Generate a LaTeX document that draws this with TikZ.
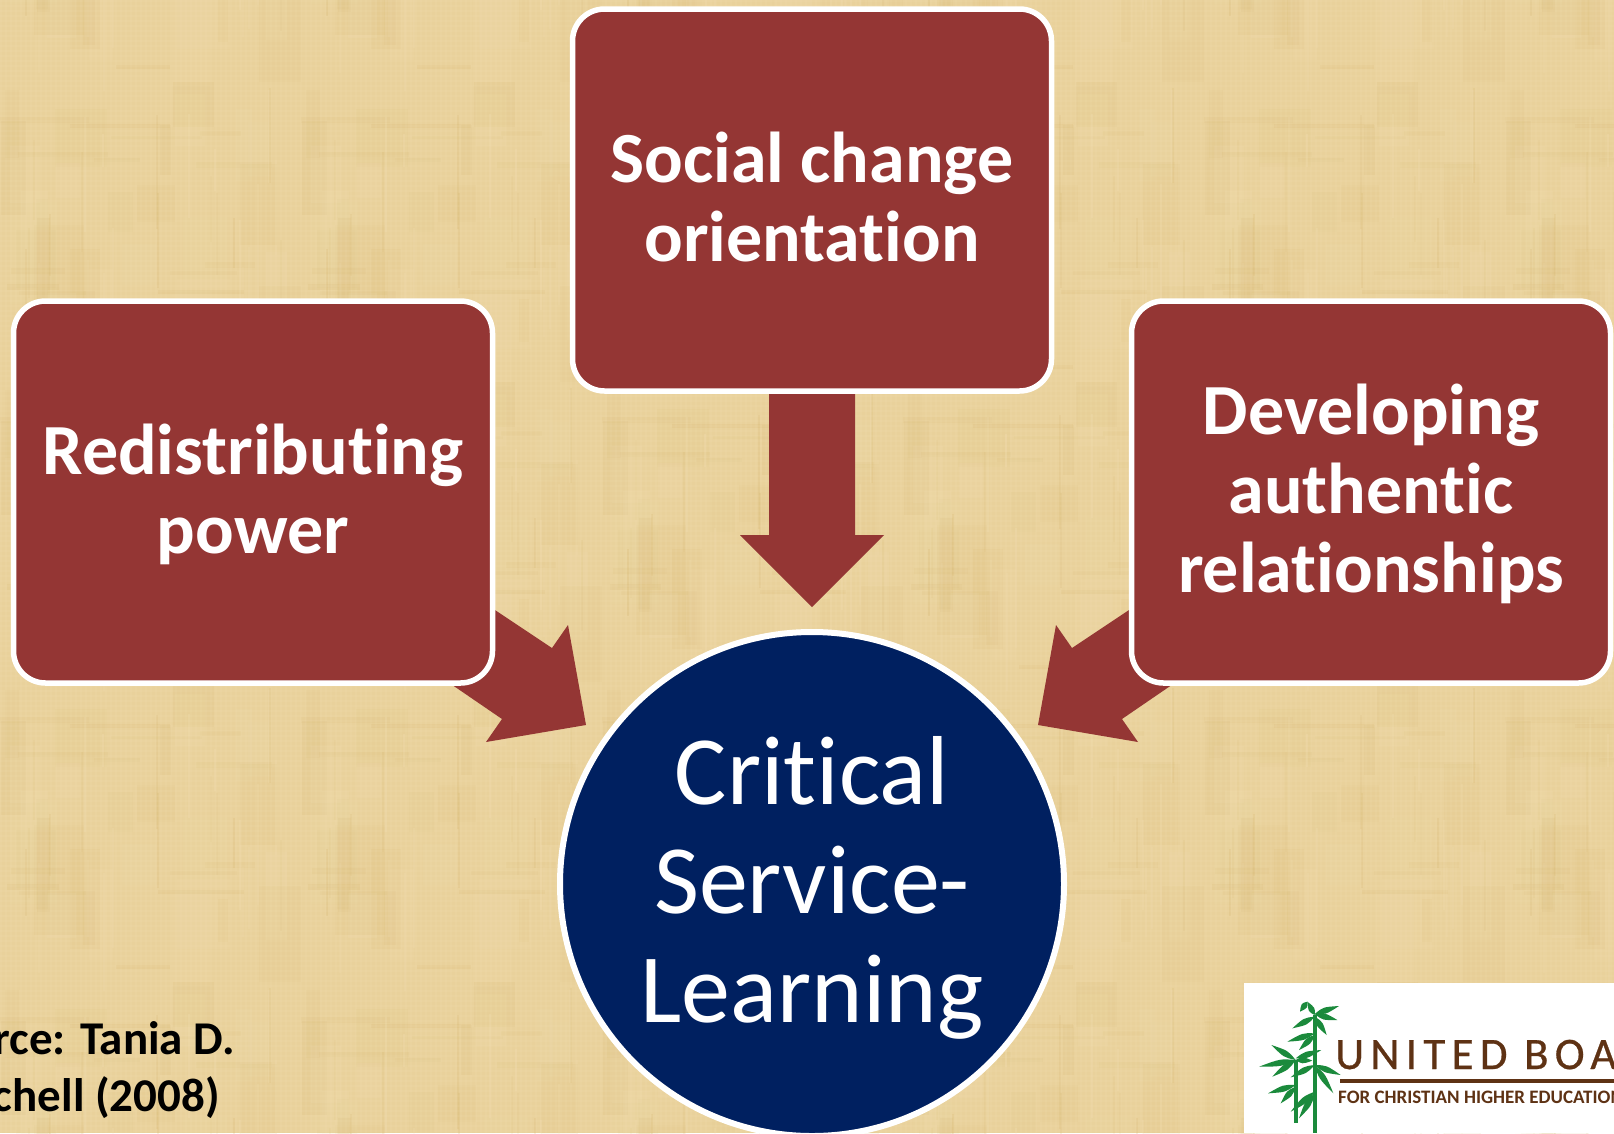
\documentclass[tikz,border=0pt]{standalone}
\usepackage{fontspec}
\setmainfont[Ligatures=NoCommon]{Carlito}
\newfontfamily\logofont[LetterSpace=14,FakeBold=0.6,Ligatures=NoCommon]{Carlito}
\usetikzlibrary{calc}
\definecolor{paper}{HTML}{E9D19B}
\definecolor{paperlight}{HTML}{F6E6BE}
\definecolor{paperdark}{HTML}{D6B56C}
\definecolor{boxred}{HTML}{943634}
\definecolor{circblue}{HTML}{002060}
\definecolor{bamboo}{HTML}{1B8A3C}
\definecolor{logobrown}{HTML}{5E3214}
\tikzset{
  redbox/.style={draw=white,line width=5.5pt,fill=boxred,rounded corners=32pt,minimum width=479pt,minimum height=382pt,inner sep=0pt},
  boxtext/.style={text=white,font=\fontsize{72}{79}\selectfont\bfseries,align=center,inner sep=0pt},
  bluecirc/.style={circle,draw=white,line width=6pt,fill=circblue,minimum size=504pt,inner sep=0pt},
  circtext/.style={text=white,font=\fontsize{98}{109}\selectfont,align=center,inner sep=0pt},
  blockarrow/.style={fill=boxred,draw=none},
  sourcetext/.style={font=\fontsize{47}{57}\selectfont\bfseries,text=black,anchor=base east,inner sep=0pt},
  stem/.style={draw=bamboo,line width=4pt},
  leaf/.style={fill=bamboo,draw=none}
}
\newcommand{\lf}[2]{\path[leaf] (#1) .. controls ($(#1)!.4!(#2)!4pt!90:(#2)$) .. (#2) .. controls ($(#1)!.4!(#2)!4pt!-90:(#2)$) .. (#1);}
\newcommand{\lz}[4]{\lf{{1244+#1/3},{990+#2/3}}{{1244+#3/3},{990+#4/3}}}
\begin{document}
\begin{tikzpicture}[x=1pt,y=-1pt]
\useasboundingbox (0,0) rectangle (1614,1133);
\clip (0,0) rectangle (1614,1133);
\fill[paper] (0,0) rectangle (1614,1133);
% paper texture: one tile, repeated
\foreach \tx in {0,301,...,1505}{
 \foreach \ty in {-221,79,379,679,979}{
  \begin{scope}[shift={(\tx,\ty)}]
  \pgfmathsetseed{7}
  \foreach \i in {1,...,30}{
    \pgfmathsetmacro{\xx}{rnd*270}\pgfmathsetmacro{\yy}{rnd*220}
    \pgfmathsetmacro{\ww}{8+rnd*50}\pgfmathsetmacro{\hh}{30+rnd*90}
    \pgfmathsetmacro{\op}{.05+rnd*.08}
    \pgfmathsetmacro{\kk}{rnd}
    \pgfmathparse{\kk>.5?1:0}
    \ifnum\pgfmathresult=1
      \fill[paperlight,opacity=\op] (\xx,\yy) rectangle ++(\ww,\hh);
    \else
      \fill[paperdark,opacity=\op] (\xx,\yy) rectangle ++(\ww,\hh);
    \fi
  }
  \foreach \i in {1,...,14}{
    \pgfmathsetmacro{\xx}{rnd*240}\pgfmathsetmacro{\yy}{rnd*290}
    \pgfmathsetmacro{\ww}{40+rnd*60}\pgfmathsetmacro{\hh}{2+rnd*4}
    \pgfmathsetmacro{\op}{.06+rnd*.10}
    \fill[paperdark,opacity=\op] (\xx,\yy) rectangle ++(\ww,\hh);
  }
  \foreach \i in {1,...,26}{
    \pgfmathsetmacro{\xx}{rnd*298}\pgfmathsetmacro{\yy}{rnd*200}
    \pgfmathsetmacro{\hh}{30+rnd*95}
    \pgfmathsetmacro{\op}{.08+rnd*.14}
    \pgfmathsetmacro{\kk}{rnd}
    \pgfmathparse{\kk>.5?1:0}
    \ifnum\pgfmathresult=1
      \fill[paperlight,opacity=\op] (\xx,\yy) rectangle ++(2,\hh);
    \else
      \fill[paperdark,opacity=\op] (\xx,\yy) rectangle ++(2,\hh);
    \fi
  }
  \end{scope}
 }
}
% fine weave
\foreach \v in {0,5,...,1610}{\fill[paperlight,opacity=.10] (\v,0) rectangle (\v+1.6,1133);}
\foreach \h in {0,5,...,1130}{\fill[paperlight,opacity=.10] (0,\h) rectangle (1614,\h+1.6);}
% arrows
\fill[blockarrow] (769,393) -- (855,393) -- (855,535) -- (884,535) -- (812,607) -- (740,535) -- (769,535) -- cycle;
\fill[blockarrow] (480,600) -- (552,648) -- (568,625) -- (586,725) -- (486,742) -- (502,719) -- (445,680) -- cycle;
\fill[blockarrow] (1144,600) -- (1072,648) -- (1056,625) -- (1038,725) -- (1138,742) -- (1122,719) -- (1179,680) -- cycle;
% boxes
\node[redbox] (top) at (812,200) {};
\node[boxtext] (toptext) at ($(top.center)+(0,-3)$) {Social change\\orientation};
\node[redbox] (left) at (253,492) {};
\node[boxtext] (lefttext) at ($(left.center)+(0,2)$) {Redistributing\\power};
\node[redbox] (right) at (1371,492) {};
\node[boxtext] (righttext) at ($(right.center)+(0,2)$) {Developing\\authentic\\relationships};
\node[bluecirc] (core) at (812,884) {};
\node[circtext] (coretext) at ($(core.center)+(0,4)$) {Critical\\Service-\\Learning};
% source
\node[sourcetext] (src1) at (235,1054) {rce: Tania D.};
\node[sourcetext] (src2) at (220,1111) {chell (2008)};
% logo
\fill[white] (1244,983) rectangle (1614,1133);
\node[font=\logofont\fontsize{45}{45}\selectfont,text=logobrown,anchor=base west,inner sep=0pt] (ub) at (1335,1069) {UNITED BOA};
\fill[logobrown] (1340,1079) rectangle (1614,1082.5);
\node[font=\fontsize{19}{19}\selectfont\bfseries,text=logobrown,anchor=base west,inner sep=0pt] (fc) at (1338,1103) {FOR CHRISTIAN HIGHER EDUCATION};
\draw[stem] (1315,1015) -- (1315,1133);
\draw[stem,line width=3.2pt] (1296,1060) -- (1296,1123);
\lz{212}{75}{190}{35}
\lz{190}{35}{168}{65}
\lz{212}{72}{285}{48}
\lz{212}{72}{280}{90}
\lz{212}{80}{248}{135}
\lz{212}{80}{145}{115}
\lz{212}{130}{130}{155}
\lz{212}{135}{165}{180}
\lz{155}{205}{232}{180}
\lz{155}{210}{82}{165}
\lz{155}{210}{45}{230}
\lz{155}{210}{85}{260}
\lz{155}{210}{205}{212}
\lz{212}{225}{290}{255}
\lz{212}{225}{268}{310}
\lz{212}{225}{140}{262}
\lz{155}{285}{72}{310}
\lz{155}{290}{110}{340}
\lz{212}{305}{140}{365}
\lz{212}{310}{165}{385}
\end{tikzpicture}
\end{document}
